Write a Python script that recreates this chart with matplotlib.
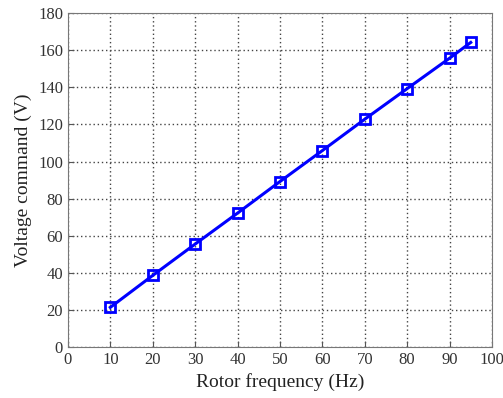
import matplotlib
matplotlib.use('Agg')
import matplotlib.pyplot as plt

# rotor frequency (Hz) and voltage command (V)
freq = [10, 20, 30, 40, 50, 60, 70, 80, 90, 95]
volt = [21.4, 38.6, 55.5, 72.2, 89.2, 105.9, 122.8, 139.3, 155.7, 164.2]

xticks = list(range(0, 101, 10))
yticks = list(range(0, 181, 20))

plt.rcParams['font.family'] = 'Liberation Serif'

fig = plt.figure(figsize=(5.03, 3.98), dpi=100)
ax = fig.add_axes([0.135, 0.128, 0.843, 0.839])

ax.plot(freq, volt, color='#0000ff', linewidth=2.2, marker='s', markersize=7,
        markerfacecolor='none', markeredgecolor='#0000ff', markeredgewidth=2)

ax.set_xlim(0, 100)
ax.set_ylim(0, 180)
ax.set_xticks(xticks)
ax.set_yticks(yticks)
ax.tick_params(direction='in', labelsize=12, length=4, color='#555555', labelcolor='#333333')
ax.grid(True, linestyle=(0, (1, 2)), color='#444444', linewidth=1)
for s in ax.spines.values():
    s.set_color('#777777')

ax.set_xlabel('Rotor frequency (Hz)', fontsize=14, color='#222222')
ax.set_ylabel('Voltage command (V)', fontsize=14, color='#222222')

fig.savefig('out.png', dpi=100)
